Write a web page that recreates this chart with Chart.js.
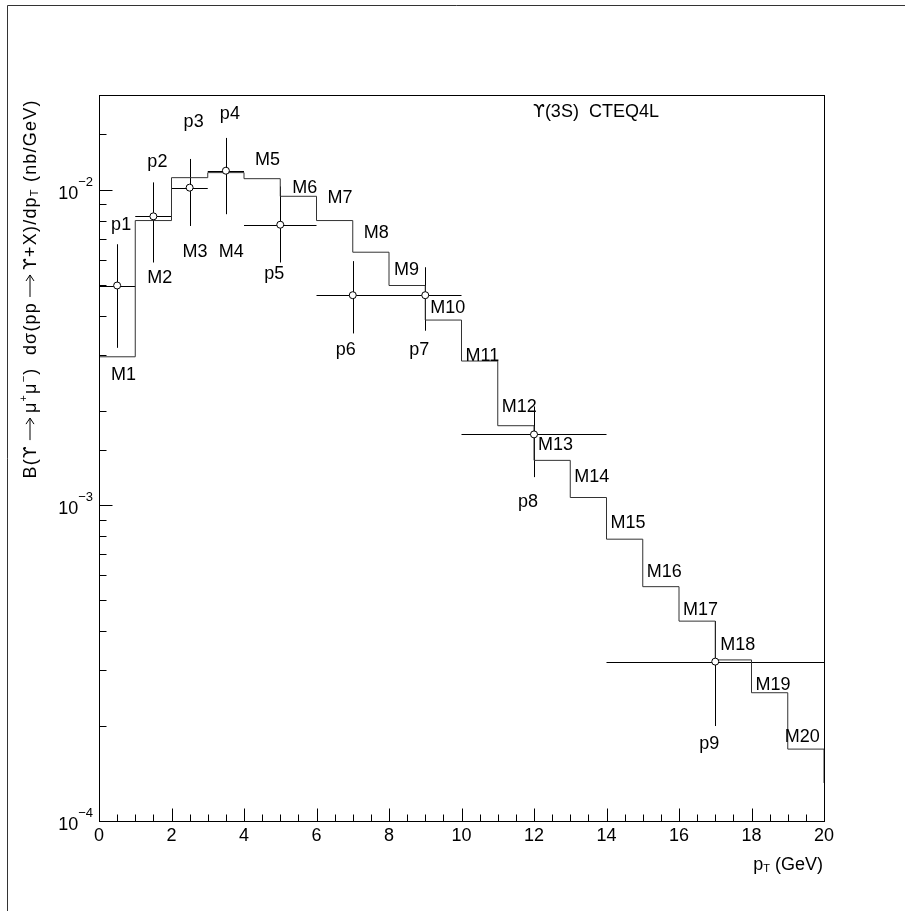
<!DOCTYPE html>
<html>
<head>
<meta charset="utf-8">
<script src="https://cdn.jsdelivr.net/npm/chart.js@4"></script>
<style>
  html, body { margin: 0; padding: 0; background: #fff; }
  canvas { display: block; }
</style>
</head>
<body>
<canvas id="c" width="905" height="911"></canvas>
<script>
const FONT = '"Liberation Sans", "DejaVu Sans", sans-serif';
const UPS_FONT = '"DejaVu Sans", sans-serif';   // hooked upsilon glyph

// histogram: bin low edges (GeV) and heights
const binLow = [0, 1, 2, 3, 4, 5, 6, 7, 8, 9, 10, 11, 12, 13, 14, 15, 16, 17, 18, 19];
const histValues = [2.96e-3, 8.0e-3, 1.094e-2, 1.135e-2, 1.086e-2, 9.55e-3, 8.0e-3, 6.35e-3, 4.98e-3, 3.87e-3,
                    2.87e-3, 1.79e-3, 1.39e-3, 1.06e-3, 7.82e-4, 5.53e-4, 4.30e-4, 3.24e-4, 2.55e-4, 1.69e-4];
const histNames = ['M1', 'M2', 'M3', 'M4', 'M5', 'M6', 'M7', 'M8', 'M9', 'M10',
                   'M11', 'M12', 'M13', 'M14', 'M15', 'M16', 'M17', 'M18', 'M19', 'M20'];
const nextBinValue = 1.32e-4;   // bin 20-21, only its left edge shows

// measured points with errors
const pointNames = ['p1', 'p2', 'p3', 'p4', 'p5', 'p6', 'p7', 'p8', 'p9'];
const pointX    = [0.5, 1.5, 2.5, 3.5, 5, 7, 9, 12, 17];
const pointXErr = [0.5, 0.5, 0.5, 0.5, 1, 1, 1, 2, 3];
const pointY    = [4.98e-3, 8.25e-3, 1.017e-2, 1.151e-2, 7.76e-3, 4.64e-3, 4.64e-3, 1.68e-3, 3.20e-4];
const pointYHi  = [6.73e-3, 1.057e-2, 1.254e-2, 1.462e-2, 1.026e-2, 5.95e-3, 5.69e-3, 2.06e-3, 4.30e-4];
const pointYLo  = [3.16e-3, 5.89e-3, 7.69e-3, 8.38e-3, 5.89e-3, 3.51e-3, 3.58e-3, 1.23e-3, 2.0e-4];

const xTickStep = 0.5;
const xLabelEvery = 2;

// label offsets in pixels: M labels from bin left edge / height, p labels from point centre
const histLabelOffsets = [[12, 23], [12, 62], [11, 79], [11, 84], [11, -14], [12, -3], [11, -18], [11, -14],
                          [5, -11], [5, -7], [4, 0], [4, -14], [4, -10], [4, -16], [4, -11], [4, -10],
                          [4, -6], [5, -10], [4, -3], [-3, -7]];
const pointLabelOffsets = [[4, -56], [4, -49], [4, -61], [4, -52], [-6, 54], [-7, 60], [-6, 60], [-6, 73], [-6, 87]];

const histData = binLow.map((x, i) => ({ x, y: histValues[i] }));
histData.push({ x: 20, y: nextBinValue }, { x: 21, y: nextBinValue });
const pointData = pointX.map((x, i) => ({ x, y: pointY[i] }));

function line(ctx, x1, y1, x2, y2) {
  ctx.beginPath();
  ctx.moveTo(x1, y1);
  ctx.lineTo(x2, y2);
  ctx.stroke();
}

// text made of pieces with own size / vertical shift, arrows drawn by hand
function richText(ctx, segs, x, y, align, spacing) {
  ctx.letterSpacing = (spacing || 0) + 'px';
  const parts = segs.map(s => {
    if (s.arrow) return { ...s, w: s.arrow + 10 };
    ctx.font = (s.size || 18) + 'px ' + (s.family || FONT);
    return { ...s, w: ctx.measureText(s.t).width };
  });
  const total = parts.reduce((a, p) => a + p.w, 0);
  let cx = align === 'right' ? x - total : align === 'center' ? x - total / 2 : x;
  ctx.textAlign = 'left';
  ctx.textBaseline = 'alphabetic';
  parts.forEach(p => {
    if (p.arrow) {
      const ay = y - 6;
      line(ctx, cx + 5, ay, cx + 5 + p.arrow, ay);
      ctx.beginPath();
      ctx.moveTo(cx + p.arrow - 1, ay - 4);
      ctx.lineTo(cx + 5 + p.arrow, ay);
      ctx.lineTo(cx + p.arrow - 1, ay + 4);
      ctx.stroke();
    } else {
      ctx.font = (p.size || 18) + 'px ' + (p.family || FONT);
      ctx.fillText(p.t, cx, y + (p.dy || 0));
    }
    cx += p.w;
  });
  ctx.letterSpacing = '0px';
  return total;
}

const decorPlugin = {
  id: 'decor',
  beforeDatasetsDraw(chart) {
    const { ctx, scales: { x: xs, y: ys } } = chart;
    ctx.save();
    ctx.strokeStyle = '#000';
    ctx.lineWidth = 1;
    pointX.forEach((px, i) => {
      const cx = Math.round(xs.getPixelForValue(px)) + 0.5;
      const cy = Math.round(ys.getPixelForValue(pointY[i])) + 0.5;
      line(ctx, xs.getPixelForValue(px - pointXErr[i]), cy, xs.getPixelForValue(px + pointXErr[i]), cy);
      line(ctx, cx, ys.getPixelForValue(pointYHi[i]), cx, ys.getPixelForValue(pointYLo[i]));
    });
    ctx.restore();
  },
  afterDraw(chart) {
    const { ctx, chartArea: a, scales: { x: xs, y: ys } } = chart;
    ctx.save();
    ctx.strokeStyle = '#000';
    ctx.fillStyle = '#000';
    ctx.lineWidth = 1;

    // page frame
    ctx.strokeStyle = '#333';
    line(ctx, 7.5, 5.5, 905, 5.5);
    line(ctx, 7.5, 5.5, 7.5, 911);
    ctx.strokeStyle = '#000';

    // plot frame
    const L = Math.round(a.left) + 0.5, R = Math.round(a.right) + 0.5;
    const T = Math.round(a.top) + 0.5, B = Math.round(a.bottom) + 0.5;
    ctx.strokeRect(L, T, R - L, B - T);

    // x ticks, pointing inward
    xs.ticks.forEach(t => {
      const px = Math.round(xs.getPixelForValue(t.value)) + 0.5;
      const major = Math.abs(t.value % xLabelEvery) < 1e-9;
      line(ctx, px, B, px, B - (major ? 13 : 7));
    });

    // y ticks and decade labels
    ys.ticks.forEach(t => {
      if (t.value > ys.max) return;
      const py = Math.round(ys.getPixelForValue(t.value)) + 0.5;
      const lg = Math.log10(t.value);
      const major = Math.abs(lg - Math.round(lg)) < 1e-6;
      line(ctx, L, py, L + (major ? 13 : 7), py);
      if (major) {
        richText(ctx, [{ t: '10' }, { t: '\u2212' + Math.abs(Math.round(lg)), size: 13, dy: -13 }], 93, py + 8, 'right');
      }
    });

    // axis titles
    richText(ctx, [{ t: 'p' }, { t: 'T', size: 11, dy: 2 }, { t: ' (GeV)' }], 823, 870, 'right');

    ctx.save();
    ctx.translate(36, 289);
    ctx.rotate(-Math.PI / 2);
    richText(ctx, [
      { t: 'B(' }, { t: '\u03d2', family: UPS_FONT, size: 17 }, { arrow: 22 }, { t: '\u03bc' },
      { t: '+', size: 11, dy: -9 }, { t: '\u03bc' }, { t: '\u2212', size: 11, dy: -9 }, { t: ')  d\u03c3(pp' },
      { arrow: 22 }, { t: '\u03d2', family: UPS_FONT, size: 17 }, { t: '+X)/dp' },
      { t: 'T', size: 11, dy: 2 }, { t: ' (nb/GeV)' }
    ], 0, 0, 'center', 1.2);
    ctx.restore();

    // plot caption
    richText(ctx, [{ t: '\u03d2', family: UPS_FONT, size: 17 }, { t: '(3S)  CTEQ4L' }], a.left + 434, a.top + 22, 'left');

    // bin and point names
    ctx.font = '18px ' + FONT;
    histNames.forEach((name, i) => {
      const [dx, dy] = histLabelOffsets[i];
      ctx.textAlign = 'left';
      ctx.fillText(name, xs.getPixelForValue(binLow[i]) + dx, ys.getPixelForValue(histValues[i]) + dy);
    });
    pointNames.forEach((name, i) => {
      const [dx, dy] = pointLabelOffsets[i];
      ctx.textAlign = 'center';
      ctx.fillText(name, xs.getPixelForValue(pointX[i]) + dx, ys.getPixelForValue(pointY[i]) + dy);
    });
    ctx.restore();
  }
};

new Chart(document.getElementById('c'), {
  type: 'line',
  data: {
    datasets: [
      { label: 'model', data: histData, stepped: 'before', borderColor: '#333', borderWidth: 1,
        pointRadius: 0, fill: false, order: 1 },
      { label: 'data', data: pointData, showLine: false, pointRadius: 3.5, pointBackgroundColor: '#fff',
        pointBorderColor: '#000', pointBorderWidth: 1, order: 0 }
    ]
  },
  options: {
    responsive: false,
    animation: false,
    devicePixelRatio: 1,
    layout: { padding: { left: 99, top: 95, right: 81, bottom: 40 } },
    plugins: { legend: { display: false }, tooltip: { enabled: false } },
    scales: {
      x: {
        type: 'linear', min: 0, max: 20,
        grid: { display: false }, border: { display: false },
        ticks: {
          stepSize: xTickStep, maxTicksLimit: 100, autoSkip: false, maxRotation: 0, padding: -4,
          color: '#000', font: { family: FONT, size: 18 },
          callback: v => (Math.abs(v % xLabelEvery) < 1e-9 ? String(v) : '')
        },
        afterFit: s => { s.height = 50; }
      },
      y: {
        type: 'logarithmic', min: 1e-4, max: 0.02,
        grid: { display: false }, border: { display: false },
        ticks: { display: false },
        afterFit: s => { s.width = 0; }
      }
    }
  },
  plugins: [decorPlugin]
});
</script>
</body>
</html>
